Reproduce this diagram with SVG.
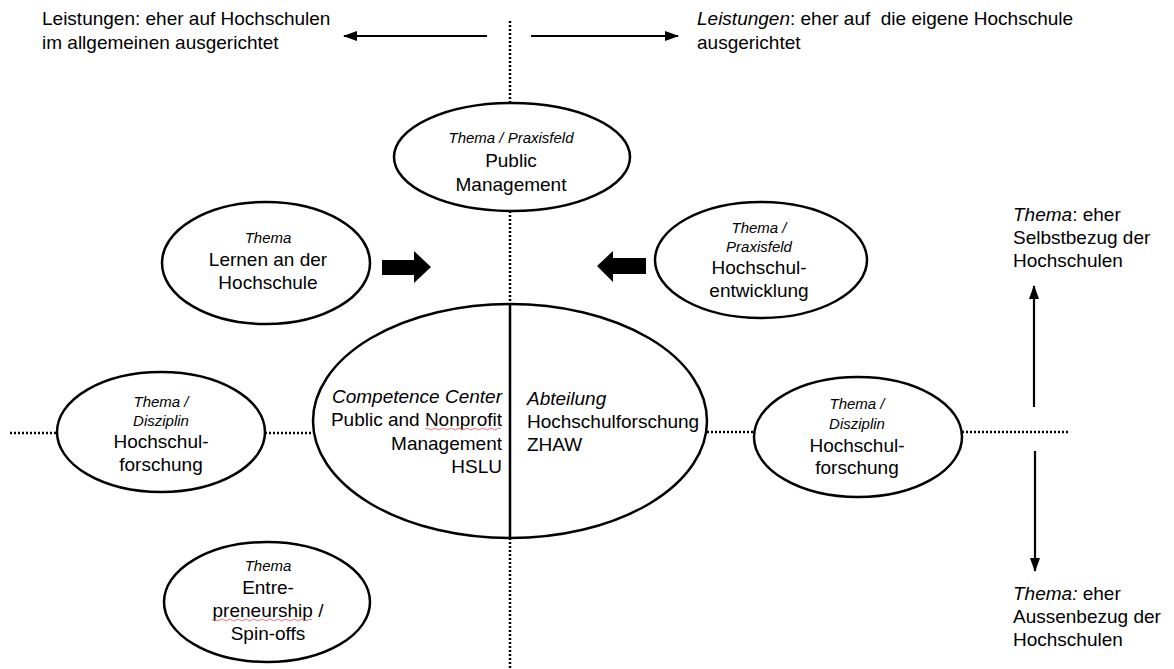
<svg xmlns="http://www.w3.org/2000/svg" width="1174" height="669" viewBox="0 0 1174 669">
<style>
text{font-family:"Liberation Sans",Arial,sans-serif;fill:#000;font-size:19px;white-space:pre}
.c{text-anchor:middle}
.e{text-anchor:end}
.i{font-style:italic}
.s{font-size:15px;font-style:italic}
.node ellipse{fill:#fff;stroke:#000;stroke-width:2.5}
.dot{stroke:#000;stroke-width:2.5;stroke-dasharray:2 2;fill:none}
.ar{stroke:#000;stroke-width:2.2;fill:none}
.sq{stroke:#e05555;stroke-width:0.8;fill:none}
</style>
<defs>
<marker id="ah" viewBox="0 0 14 10" refX="13" refY="5" markerWidth="6.4" markerHeight="4.6" orient="auto" markerUnits="strokeWidth">
<path d="M0,0 L14,5 L0,10 z" fill="#000"/>
</marker>
</defs>
<rect width="1174" height="669" fill="#fff"/>
<g id="connectors">
<line class="dot" x1="510" y1="21" x2="510" y2="104"/>
<line class="dot" x1="510" y1="211" x2="510" y2="305"/>
<line class="dot" x1="510" y1="538" x2="510" y2="669"/>
<line class="dot" x1="10" y1="433" x2="57" y2="433"/>
<line class="dot" x1="265" y1="433" x2="313" y2="433"/>
<line class="dot" x1="707" y1="432" x2="754" y2="432"/>
<line class="dot" x1="962" y1="432" x2="1068" y2="432"/>
<line class="ar" x1="487" y1="36" x2="344" y2="36" marker-end="url(#ah)"/>
<line class="ar" x1="531" y1="36" x2="678" y2="36" marker-end="url(#ah)"/>
<line class="ar" x1="1034" y1="407" x2="1034" y2="286" marker-end="url(#ah)"/>
<line class="ar" x1="1035" y1="451" x2="1035" y2="571" marker-end="url(#ah)"/>
<polygon points="382,260 414,260 414,251 431,267 414,283 414,275 382,275" fill="#000"/>
<polygon points="646,258 613,258 613,251 597,266 613,282 613,274 646,274" fill="#000"/>
</g>
<g id="label-left-top">
<text x="42" y="25">Leistungen: eher auf Hochschulen</text>
<text x="42" y="49">im allgemeinen ausgerichtet</text>
</g>
<g id="label-right-top">
<text x="697" y="25" xml:space="preserve"><tspan class="i">Leistungen</tspan>: eher auf  die eigene Hochschule</text>
<text x="697" y="49">ausgerichtet</text>
</g>
<g id="label-up">
<text x="1013" y="221"><tspan class="i">Thema</tspan>: eher</text>
<text x="1013" y="244">Selbstbezug der</text>
<text x="1013" y="267">Hochschulen</text>
</g>
<g id="label-down">
<text x="1013" y="600"><tspan class="i">Thema:</tspan> eher</text>
<text x="1013" y="623">Aussenbezug der</text>
<text x="1013" y="646">Hochschulen</text>
</g>
<g id="node-public-management" class="node">
<ellipse cx="512" cy="157" rx="118" ry="54"/>
<text class="c s" x="511" y="143">Thema / Praxisfeld</text>
<text class="c" x="511" y="167">Public</text>
<text class="c" x="511" y="191">Management</text>
</g>
<g id="node-lernen" class="node">
<ellipse cx="266" cy="263" rx="104" ry="61"/>
<text class="c s" x="268" y="243">Thema</text>
<text class="c" x="268" y="266">Lernen an der</text>
<text class="c" x="268" y="289">Hochschule</text>
</g>
<g id="node-hochschulentwicklung" class="node">
<ellipse cx="761" cy="260" rx="106" ry="58"/>
<text class="c s" x="759" y="233">Thema /</text>
<text class="c s" x="759" y="252">Praxisfeld</text>
<text class="c" x="759" y="274">Hochschul-</text>
<text class="c" x="759" y="297">entwicklung</text>
</g>
<g id="node-center" class="node">
<ellipse cx="510" cy="421" rx="197" ry="117"/>
<line x1="510" y1="304" x2="510" y2="538" stroke="#000" stroke-width="2.5"/>
<text class="e i" x="502" y="403">Competence Center</text>
<text class="e" x="502" y="426">Public and Nonprofit</text>
<text class="e" x="502" y="450">Management</text>
<text class="e" x="502" y="473">HSLU</text>
<path class="sq" d="M425,429 q2,-2 4,0 t4,0 t4,0 t4,0 t4,0 t4,0 t4,0 t4,0 t4,0 t4,0 t4,0 t4,0 t4,0 t4,0 t4,0 t4,0 t4,0 t4,0 t4,0"/>
<text class="i" x="527" y="405">Abteilung</text>
<text x="527" y="428">Hochschulforschung</text>
<text x="527" y="451">ZHAW</text>
</g>
<g id="node-forschung-left" class="node">
<ellipse cx="161" cy="432" rx="104" ry="60"/>
<text class="c s" x="161" y="407">Thema /</text>
<text class="c s" x="161" y="426">Disziplin</text>
<text class="c" x="161" y="448">Hochschul-</text>
<text class="c" x="161" y="471">forschung</text>
</g>
<g id="node-forschung-right" class="node">
<ellipse cx="858" cy="437" rx="104" ry="60"/>
<text class="c s" x="857" y="409">Thema /</text>
<text class="c s" x="857" y="429">Disziplin</text>
<text class="c" x="857" y="452">Hochschul-</text>
<text class="c" x="857" y="474">forschung</text>
</g>
<g id="node-entrepreneurship" class="node">
<ellipse cx="267" cy="602" rx="103" ry="60"/>
<text class="c s" x="268" y="571">Thema</text>
<text class="c" x="268" y="594">Entre-</text>
<text class="c" x="268" y="617">preneurship /</text>
<path class="sq" d="M212,620 q2,-2 4,0 t4,0 t4,0 t4,0 t4,0 t4,0 t4,0 t4,0 t4,0 t4,0 t4,0 t4,0 t4,0 t4,0 t4,0 t4,0 t4,0 t4,0 t4,0 t4,0 t4,0 t4,0 t4,0 t4,0 t4,0"/>
<text class="c" x="268" y="640">Spin-offs</text>
</g>
</svg>
